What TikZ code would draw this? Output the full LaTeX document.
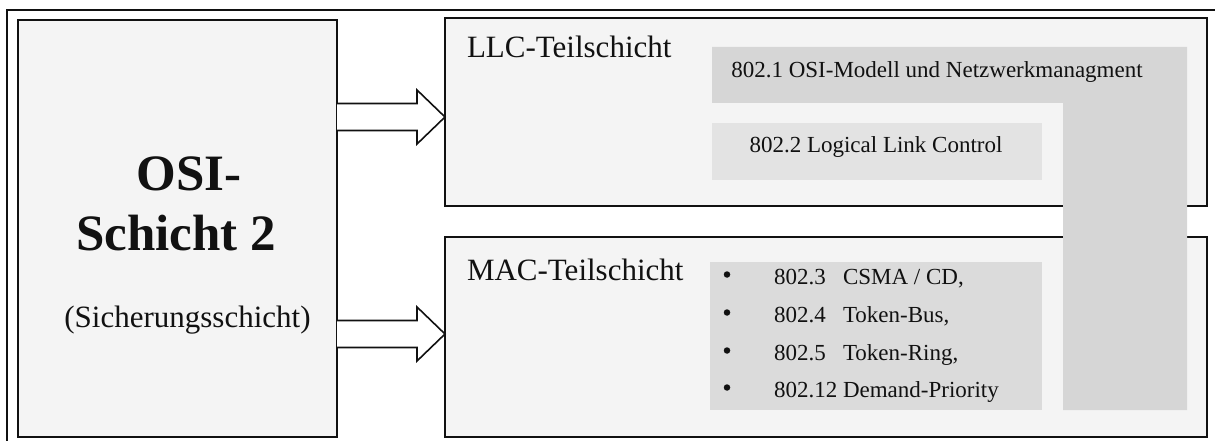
\documentclass[tikz,border=0pt]{standalone}
\usepackage{fontspec}
\setmainfont{Liberation Serif}
\usetikzlibrary{calc}
\definecolor{boxbg}{HTML}{F4F4F4}
\definecolor{lgrey}{HTML}{D6D6D6}
\definecolor{llcgrey}{HTML}{E3E3E3}
\definecolor{macgrey}{HTML}{DBDBDB}
\definecolor{ink}{HTML}{111111}
\tikzset{
  layerbox/.style={draw=ink, line width=2pt, fill=boxbg, inner sep=0pt, outer sep=0pt},
  greyfill/.style={inner sep=0pt, outer sep=0pt, draw=none},
  txt/.style={inner sep=0pt, outer sep=0pt, text=ink, anchor=base west},
  bulletdot/.style={circle, fill=ink, inner sep=0pt, minimum size=6.5pt},
  blockarrow/.style={draw=ink, line width=1.6pt, fill=white, line join=miter},
  frameline/.style={draw=ink, line width=1.4pt}
}
\begin{document}
\begin{tikzpicture}[x=1pt,y=-1pt]
\useasboundingbox (0,0) rectangle (1215,441);
% outer frame
\draw[frameline] (1216,10) -- (7,10) -- (7,442);
% main boxes
\node[layerbox, minimum width=319pt, minimum height=417pt] (osi) at (177.5,228.5) {};
\node[layerbox, minimum width=762pt, minimum height=188pt] (llc) at (826,112) {};
\node[layerbox, minimum width=762pt, minimum height=200pt] (mac) at (826,337) {};
% L-shaped grey band (802.1)
\fill[lgrey] (712,47) -- (1187,47) -- (1187,410) -- (1063,410) -- (1063,103) -- (712,103) -- cycle;
\node[greyfill, fill=llcgrey, minimum width=330pt, minimum height=57pt] (g2) at (877,151.5) {};
\node[greyfill, fill=macgrey, minimum width=332pt, minimum height=148pt] (g3) at (876,336) {};
% left box texts
\node[txt, anchor=base, font=\bfseries\fontsize{51}{51}\selectfont] (t1) at (189,190) {OSI-};
\node[txt, anchor=base, font=\bfseries\fontsize{51}{51}\selectfont] (t2) at (176,250) {Schicht 2};
\node[txt, anchor=base, font=\fontsize{31}{31}\selectfont] (t3) at (187.5,327) {(Sicherungsschicht)};
% sublayer titles
\node[txt, font=\fontsize{31}{31}\selectfont] (t4) at (467,58) {LLC-Teilschicht};
\node[txt, font=\fontsize{31}{31}\selectfont] (t5) at (467,280) {MAC-Teilschicht};
% grey texts
\node[txt, anchor=base, font=\fontsize{23}{23}\selectfont] (t6) at (937,78) {802.1 OSI-Modell und Netzwerkmanagment};
\node[txt, anchor=base, font=\fontsize{23}{23}\selectfont] (t7) at (876,153) {802.2 Logical Link Control};
% bullet list
\foreach \y/\n/\t [count=\i] in {284/802.3/{CSMA / CD,}, 322/802.4/{Token-Bus,}, 360/802.5/{Token-Ring,}, 397/802.12/{Demand-Priority}}{
  \node[bulletdot] (b\i) at (727,\y-9.5) {};
  \node[txt, font=\fontsize{23}{23}\selectfont] (n\i) at (774,\y) {\n};
  \node[txt, font=\fontsize{23}{23}\selectfont] (l\i) at (843,\y) {\t};
}
% block arrows
\coordinate (u1) at (osi.east |- 0,117);
\coordinate (u2) at (llc.west |- 0,117);
\coordinate (d1) at (osi.east |- 0,334);
\coordinate (d2) at (mac.west |- 0,334);
\foreach \s/\e in {u1/u2, d1/d2}{
  \draw[blockarrow] ($(\s)+(0,-13.5)$) -- ($(\e)+(-28,-13.5)$) -- ($(\e)+(-28,-27)$) -- (\e)
     -- ($(\e)+(-28,27)$) -- ($(\e)+(-28,13.5)$) -- ($(\s)+(0,13.5)$);
}
\end{tikzpicture}
\end{document}
